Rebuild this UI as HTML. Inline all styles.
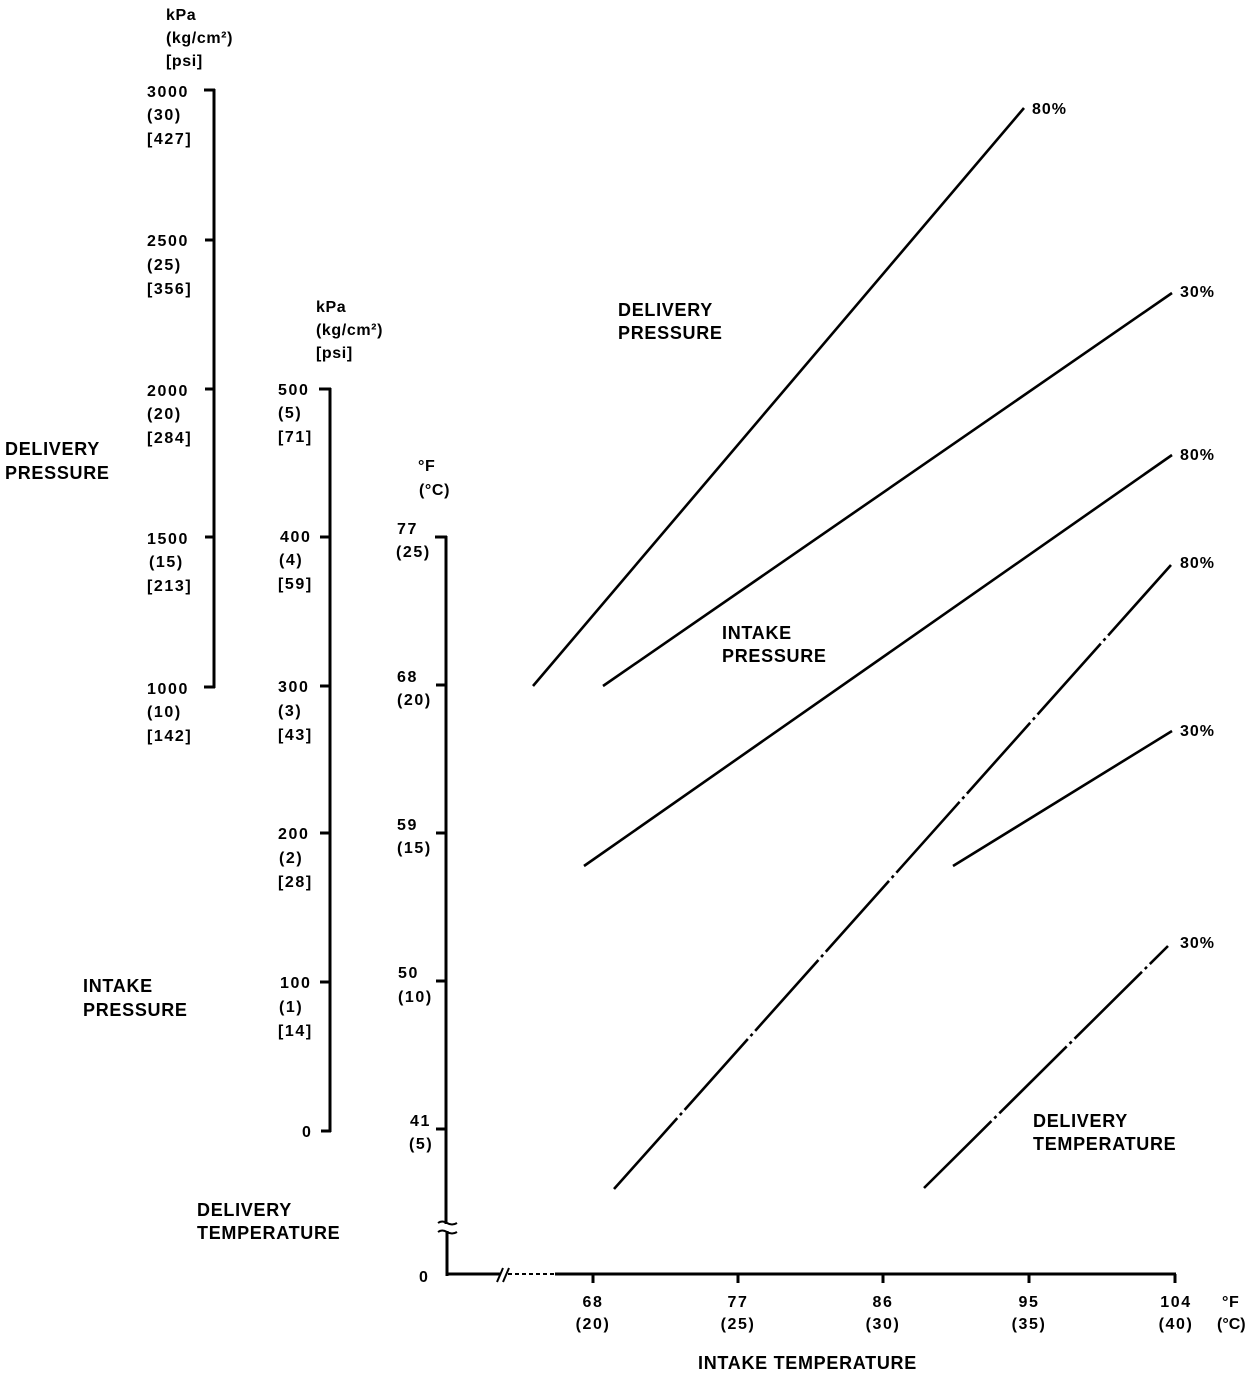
<!DOCTYPE html>
<html>
<head>
<meta charset="utf-8">
<style>
  html,body{margin:0;padding:0;background:#fff;}
  svg{display:block;}
  text{font-family:"Liberation Sans",Arial,sans-serif;font-weight:bold;fill:#000;}
  .n{font-size:16px;letter-spacing:1.6px;}
  .u{font-size:16px;letter-spacing:0.6px;}
  .l{font-size:18px;letter-spacing:0.7px;}
  .p{font-size:16px;letter-spacing:1px;}
</style>
</head>
<body>
<svg width="1248" height="1376" viewBox="0 0 1248 1376" xmlns="http://www.w3.org/2000/svg">
  <rect width="1248" height="1376" fill="#fff"/>

  <!-- Delivery pressure axis -->
  <g stroke="#000" stroke-width="3" fill="none">
    <line x1="214" y1="89" x2="214" y2="688"/>
    <line x1="204" y1="90" x2="215" y2="90"/>
    <line x1="205" y1="240" x2="214" y2="240"/>
    <line x1="205" y1="389" x2="214" y2="389"/>
    <line x1="205" y1="537" x2="214" y2="537"/>
    <line x1="204" y1="687" x2="215" y2="687"/>
  </g>
  <text class="u" x="166" y="20">kPa</text>
  <text class="u" x="166" y="43">(kg/cm²)</text>
  <text class="u" x="166" y="66">[psi]</text>

  <text class="n" x="147" y="97">3000</text>
  <text class="n" x="147" y="120">(30)</text>
  <text class="n" x="147" y="144">[427]</text>
  <text class="n" x="147" y="246">2500</text>
  <text class="n" x="147" y="270">(25)</text>
  <text class="n" x="147" y="294">[356]</text>
  <text class="n" x="147" y="396">2000</text>
  <text class="n" x="147" y="419">(20)</text>
  <text class="n" x="147" y="443">[284]</text>
  <text class="n" x="147" y="544">1500</text>
  <text class="n" x="149" y="567">(15)</text>
  <text class="n" x="147" y="591">[213]</text>
  <text class="n" x="147" y="694">1000</text>
  <text class="n" x="147" y="717">(10)</text>
  <text class="n" x="147" y="741">[142]</text>

  <!-- Intake pressure axis -->
  <g stroke="#000" stroke-width="3" fill="none">
    <line x1="330" y1="388" x2="330" y2="1132"/>
    <line x1="319" y1="389" x2="331" y2="389"/>
    <line x1="320" y1="537" x2="330" y2="537"/>
    <line x1="320" y1="686" x2="330" y2="686"/>
    <line x1="320" y1="833" x2="330" y2="833"/>
    <line x1="320" y1="982" x2="330" y2="982"/>
    <line x1="321" y1="1131" x2="331" y2="1131"/>
  </g>
  <text class="u" x="316" y="312">kPa</text>
  <text class="u" x="316" y="335">(kg/cm²)</text>
  <text class="u" x="316" y="358">[psi]</text>

  <text class="n" x="278" y="395">500</text>
  <text class="n" x="278" y="418">(5)</text>
  <text class="n" x="278" y="442">[71]</text>
  <text class="n" x="280" y="542">400</text>
  <text class="n" x="279" y="565">(4)</text>
  <text class="n" x="278" y="589">[59]</text>
  <text class="n" x="278" y="692">300</text>
  <text class="n" x="278" y="716">(3)</text>
  <text class="n" x="278" y="740">[43]</text>
  <text class="n" x="278" y="839">200</text>
  <text class="n" x="279" y="863">(2)</text>
  <text class="n" x="278" y="887">[28]</text>
  <text class="n" x="280" y="988">100</text>
  <text class="n" x="279" y="1012">(1)</text>
  <text class="n" x="278" y="1036">[14]</text>
  <text class="n" x="302" y="1137">0</text>

  <!-- Temperature axis -->
  <g stroke="#000" stroke-width="3" fill="none">
    <line x1="446" y1="536" x2="446" y2="1224"/>
    <line x1="447" y1="1231" x2="447" y2="1276"/>
    <line x1="435" y1="537" x2="447" y2="537"/>
    <line x1="436" y1="685" x2="446" y2="685"/>
    <line x1="436" y1="833" x2="446" y2="833"/>
    <line x1="436" y1="981" x2="446" y2="981"/>
    <line x1="436" y1="1129" x2="446" y2="1129"/>
  </g>
  <g stroke="#000" stroke-width="2" fill="none">
    <path d="M438 1223 q4 -3 9 0 t10 0"/>
    <path d="M438 1232 q4 -3 9 0 t10 0"/>
  </g>
  <text class="u" x="418" y="471">°F</text>
  <text class="u" x="419" y="495">(°C)</text>

  <text class="n" x="397" y="534">77</text>
  <text class="n" x="396" y="557">(25)</text>
  <text class="n" x="397" y="682">68</text>
  <text class="n" x="397" y="705">(20)</text>
  <text class="n" x="397" y="830">59</text>
  <text class="n" x="397" y="853">(15)</text>
  <text class="n" x="398" y="978">50</text>
  <text class="n" x="398" y="1002">(10)</text>
  <text class="n" x="410" y="1126">41</text>
  <text class="n" x="409" y="1149">(5)</text>
  <text class="n" x="419" y="1282">0</text>

  <!-- X axis -->
  <g stroke="#000" stroke-width="3" fill="none">
    <line x1="446" y1="1274" x2="500" y2="1274"/>
    <line x1="555" y1="1274" x2="1176" y2="1274"/>
    <line x1="593" y1="1274" x2="593" y2="1283"/>
    <line x1="738" y1="1274" x2="738" y2="1283"/>
    <line x1="883" y1="1274" x2="883" y2="1283"/>
    <line x1="1029" y1="1274" x2="1029" y2="1283"/>
    <line x1="1175" y1="1274" x2="1175" y2="1283"/>
  </g>
  <line x1="508" y1="1274" x2="555" y2="1274" stroke="#000" stroke-width="2" stroke-dasharray="4 3"/>
  <g stroke="#000" stroke-width="2" fill="none">
    <line x1="497" y1="1282" x2="503" y2="1268"/>
    <line x1="503" y1="1282" x2="509" y2="1268"/>
  </g>

  <text class="n" x="593" y="1307" text-anchor="middle">68</text>
  <text class="n" x="593" y="1329" text-anchor="middle">(20)</text>
  <text class="n" x="738" y="1307" text-anchor="middle">77</text>
  <text class="n" x="738" y="1329" text-anchor="middle">(25)</text>
  <text class="n" x="883" y="1307" text-anchor="middle">86</text>
  <text class="n" x="883" y="1329" text-anchor="middle">(30)</text>
  <text class="n" x="1029" y="1307" text-anchor="middle">95</text>
  <text class="n" x="1029" y="1329" text-anchor="middle">(35)</text>
  <text class="n" x="1176" y="1307" text-anchor="middle">104</text>
  <text class="n" x="1176" y="1329" text-anchor="middle">(40)</text>
  <text class="u" x="1222" y="1307">°F</text>
  <text class="u" x="1217" y="1329" style="letter-spacing:0px">(°C)</text>

  <text class="l" x="698" y="1369">INTAKE TEMPERATURE</text>

  <!-- Left labels -->
  <text class="l" x="5" y="455">DELIVERY</text>
  <text class="l" x="5" y="479">PRESSURE</text>
  <text class="l" x="83" y="992">INTAKE</text>
  <text class="l" x="83" y="1016">PRESSURE</text>
  <text class="l" x="197" y="1216">DELIVERY</text>
  <text class="l" x="197" y="1239">TEMPERATURE</text>

  <!-- In-chart labels -->
  <text class="l" x="618" y="316">DELIVERY</text>
  <text class="l" x="618" y="339">PRESSURE</text>
  <text class="l" x="722" y="639">INTAKE</text>
  <text class="l" x="722" y="662">PRESSURE</text>
  <text class="l" x="1033" y="1127">DELIVERY</text>
  <text class="l" x="1033" y="1150">TEMPERATURE</text>

  <!-- Series -->
  <g stroke="#000" stroke-width="2.6" fill="none" stroke-linecap="butt">
    <line x1="533" y1="686" x2="1024" y2="108"/>
    <line x1="603" y1="686" x2="1172" y2="293"/>
    <line x1="584" y1="866" x2="1172" y2="455"/>
    <line x1="953" y1="866" x2="1172" y2="731"/>
    <line x1="614" y1="1189" x2="1171" y2="565" stroke-dasharray="95 4 3 4"/>
    <line x1="924" y1="1188" x2="1168" y2="946" stroke-dasharray="95 4 3 4"/>
  </g>

  <text class="p" x="1032" y="114">80%</text>
  <text class="p" x="1180" y="297">30%</text>
  <text class="p" x="1180" y="460">80%</text>
  <text class="p" x="1180" y="568">80%</text>
  <text class="p" x="1180" y="736">30%</text>
  <text class="p" x="1180" y="948">30%</text>
</svg>
</body>
</html>
